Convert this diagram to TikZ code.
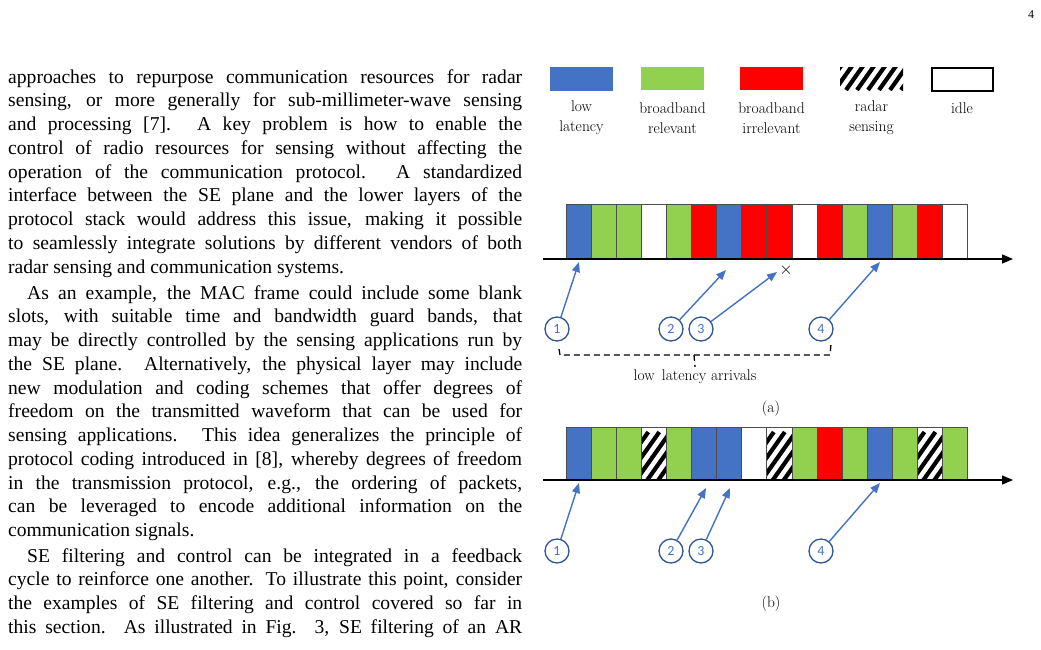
\documentclass[tikz,border=0pt]{standalone}
\usepackage{fontspec}
\setmainfont{Liberation Serif}
\newfontfamily\lmr{Latin Modern Roman}
\newfontfamily\carl{Carlito}
\usetikzlibrary{arrows.meta}
\definecolor{cB}{HTML}{4472C4}
\definecolor{cG}{HTML}{92D050}
\definecolor{cR}{HTML}{FF0000}
\definecolor{cW}{HTML}{FFFFFF}
\definecolor{cH}{HTML}{FFFFFF}
\definecolor{circ}{HTML}{2F5597}
\newcommand\myhatch[4]{%
  \begin{scope}
  \clip (#1,#2) rectangle (#3,#4);
  \fill[white] (#1,#2) rectangle (#3,#4);
  \foreach \k in {-60,-49,...,80}{\draw[line width=4.2pt,black] (#1+\k,#4) -- (#1+\k+34,#4-48);}
  \end{scope}}
\newcommand\jline[1]{\makebox[514pt][s]{#1}}
\begin{document}
\begin{tikzpicture}[x=1pt,y=-1pt,
  txt/.style={anchor=base west,inner sep=0pt,font=\fontsize{19.6}{23.75}\selectfont},
  lbl/.style={align=center,font=\lmr\fontsize{15.5}{20}\selectfont,inner sep=0pt},
  num/.style={circle,draw=circ,line width=1.3pt,minimum size=24pt,inner sep=0pt,text=cB,font=\carl\fontsize{14}{14}\selectfont},
  arr/.style={cB,line width=1.4pt,-{Triangle[length=10pt,width=8pt]}},
  slot/.style={draw=black!70,line width=0.8pt}]
\useasboundingbox (0,0) rectangle (1041,649);
\fill[white] (0,0) rectangle (1041,649);
\node[inner sep=0pt,font=\fontsize{12}{12}\selectfont] (pg) at (1031,15) {4};
% text
\foreach \y/\t in {78/{approaches to repurpose communication resources for radar},
 101.75/{sensing, or more generally for sub-millimeter-wave sensing},
 125.5/{and processing [7]. A key problem is how to enable the},
 149.25/{control of radio resources for sensing without affecting the},
 173/{operation of the communication protocol. A standardized},
 196.75/{interface between the SE plane and the lower layers of the},
 220.5/{protocol stack would address this issue, making it possible},
 244.25/{to seamlessly integrate solutions by different vendors of both}}
 {\node[txt] at (8,\y+5) {\jline{\t}};}
\node[txt] (p1e) at (8,273) {radar sensing and communication systems.};
\node[txt] at (27,299) {\makebox[495pt][s]{As an example, the MAC frame could include some blank}};
\foreach \y/\t in {322.75/{slots, with suitable time and bandwidth guard bands, that},
 346.5/{may be directly controlled by the sensing applications run by},
 370.25/{the SE plane. Alternatively, the physical layer may include},
 394/{new modulation and coding schemes that offer degrees of},
 417.75/{freedom on the transmitted waveform that can be used for},
 441.5/{sensing applications. This idea generalizes the principle of},
 465.25/{protocol coding introduced in [8], whereby degrees of freedom},
 489/{in the transmission protocol, e.g., the ordering of packets,},
 512.75/{can be leveraged to encode additional information on the}}
 {\node[txt] at (8,\y) {\jline{\t}};}
\node[txt] (p2e) at (8,536.5) {communication signals.};
\node[txt] at (27,562) {\makebox[495pt][s]{SE filtering and control can be integrated in a feedback}};
\foreach \y/\t in {585.75/{cycle to reinforce one another. To illustrate this point, consider},
 609.5/{the examples of SE filtering and control covered so far in},
 633.25/{this section. As illustrated in Fig. 3, SE filtering of an AR}}
 {\node[txt] at (8,\y) {\jline{\t}};}
% legend
\fill[cB] (550,67) rectangle (613,91);
\fill[cG] (641,67) rectangle (704,90);
\fill[cR] (740,67) rectangle (803,90);
\myhatch{840}{67}{903}{90}
\draw[line width=1.3pt] (932,68) rectangle (993,91);
\node[lbl] (l1) at (581.5,118) {low\\latency};
\node[lbl] (l2) at (672.5,118) {broadband\\relevant};
\node[lbl] (l3) at (771.5,118) {broadband\\irrelevant};
\node[lbl] (l4) at (871.5,118) {radar\\sensing};
\node[lbl,anchor=base] (l5) at (962,113) {idle};
% row a
\foreach \c [count=\i from 0] in {B,G,G,W,G,R,B,R,R,W,R,G,B,G,R,W}
  {\draw[slot,fill=c\c] (566+25.1*\i,204) rectangle (566+25.1*\i+25.1,259);}
\coordinate (a0) at (543,259); \coordinate (a1) at (1013,259);
\draw[line width=1.3pt,-{Triangle[length=11pt,width=9pt]}] (a0) -- (a1);
\node[inner sep=0pt,font=\fontsize{17}{17}\selectfont] (x) at (786,270) {$\times$};
\node[num] (n1) at (557,329) {1};
\node[num] (n2) at (671,329) {2};
\node[num] (n3) at (701,329) {3};
\node[num] (n4) at (821,329) {4};
\coordinate (t1) at (579,262); \coordinate (t2) at (726,270);
\coordinate (t3) at (777,272); \coordinate (t4) at (880,262);
\draw[arr] (n1) -- (t1); \draw[arr] (n2) -- (t2);
\draw[arr] (n3) -- (t3); \draw[arr] (n4) -- (t4);
\draw[line width=1.3pt,dash pattern=on 6pt off 4pt] (559,349) -- (560,355) -- (830,355) -- (831,344);
\draw[line width=1.3pt,dash pattern=on 6pt off 4pt] (694,355) -- (695,367);
\node[lbl] (lla) at (695,377) {low\, latency arrivals};
\node[lbl] (ca) at (771,409) {(a)};
% row b
\foreach \c [count=\i from 0] in {B,G,G,H,G,B,B,W,H,G,R,G,B,G,H,G}
  {\draw[slot,fill=c\c] (566+25.1*\i,427) rectangle (566+25.1*\i+25.1,480);}
\foreach \i in {3,8,14}
  {\myhatch{566+25.1*\i}{427}{566+25.1*\i+25.1}{480}
   \draw[slot] (566+25.1*\i,427) rectangle (566+25.1*\i+25.1,480);}
\coordinate (b0) at (543,480); \coordinate (b1) at (1013,480);
\draw[line width=1.3pt,-{Triangle[length=11pt,width=9pt]}] (b0) -- (b1);
\node[num] (m1) at (557,551) {1};
\node[num] (m2) at (671,551) {2};
\node[num] (m3) at (701,551) {3};
\node[num] (m4) at (821,551) {4};
\coordinate (s1) at (579,483); \coordinate (s2) at (706,488);
\coordinate (s3) at (730,488); \coordinate (s4) at (880,483);
\draw[arr] (m1) -- (s1); \draw[arr] (m2) -- (s2);
\draw[arr] (m3) -- (s3); \draw[arr] (m4) -- (s4);
\node[lbl] (cb) at (771,604) {(b)};
\end{tikzpicture}
\end{document}
